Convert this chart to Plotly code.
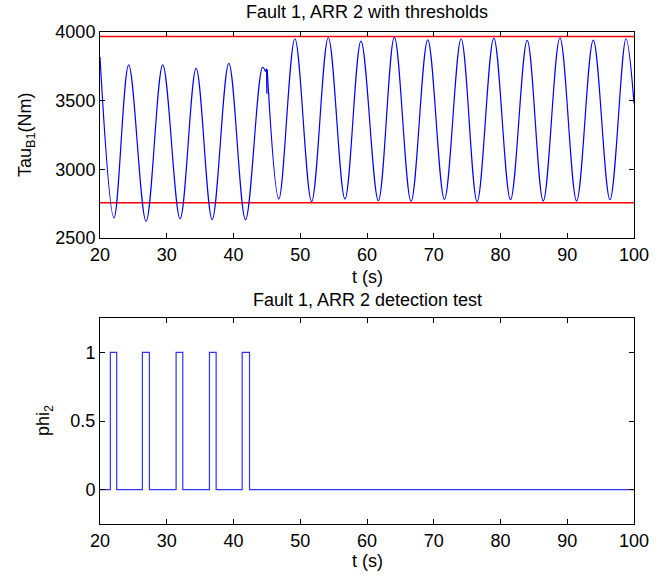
import plotly.graph_objects as go

# Top panel: extrema of the torque signal
tau_t_a = [20.0, 22.1, 24.3, 26.9, 29.4, 32.0, 34.4, 36.8, 39.3, 41.8, 44.35, 44.8]
tau_v_a = [3818, 2647, 3760, 2622, 3760, 2640, 3735, 2635, 3772, 2633, 3743, 3712]
glitch_t = [44.8, 44.95, 45.0, 45.05]
glitch_v = [3712, 3732, 3550, 3726]
tau_t_b = [45.05, 46.8, 49.2, 51.7, 54.2, 56.7, 59.1, 61.7, 64.1, 66.6, 69.1, 71.6, 74.1, 76.5,
           79.0, 81.5, 84.0, 86.4, 88.9, 91.4, 93.9, 96.4, 98.8, 100.0]
tau_v_b = [3726, 2784, 3951, 2765, 3960, 2784, 3934, 2772, 3963, 2767, 3943, 2781, 3951, 2765,
           3956, 2779, 3939, 2770, 3958, 2770, 3941, 2779, 3951, 3480]

thr_t = [20, 100]
thr_upper = [3968, 3968]
thr_lower = [2757, 2757]

# Bottom panel: detection test switching times
phi_t = [20, 21.55, 22.5, 26.35, 27.4, 31.4, 32.4, 36.4, 37.4, 41.3, 42.4, 100]
phi_v = [0, 1, 0, 1, 0, 1, 0, 1, 0, 1, 0, 0]

x_ticks = [20, 30, 40, 50, 60, 70, 80, 90, 100]
y1_ticks = [2500, 3000, 3500, 4000]
y2_ticks = [0, 0.5, 1]

BLUE = "#0000ff"
fig = go.Figure()
fig.add_trace(go.Scatter(x=thr_t, y=thr_upper, mode="lines", line=dict(color="#ff0000", width=1.5),
                         xaxis="x", yaxis="y"))
fig.add_trace(go.Scatter(x=thr_t, y=thr_lower, mode="lines", line=dict(color="#ff0000", width=1.5),
                         xaxis="x", yaxis="y"))
fig.add_trace(go.Scatter(x=tau_t_a, y=tau_v_a, mode="lines",
                         line=dict(color=BLUE, width=1.2, shape="spline", smoothing=1.0),
                         xaxis="x", yaxis="y"))
fig.add_trace(go.Scatter(x=glitch_t, y=glitch_v, mode="lines",
                         line=dict(color=BLUE, width=1.2), xaxis="x", yaxis="y"))
fig.add_trace(go.Scatter(x=tau_t_b, y=tau_v_b, mode="lines",
                         line=dict(color=BLUE, width=1.2, shape="spline", smoothing=1.0),
                         xaxis="x", yaxis="y"))
fig.add_trace(go.Scatter(x=phi_t, y=phi_v, mode="lines", line=dict(color="#3333ff", width=1.2, shape="hv"),
                         xaxis="x2", yaxis="y2"))

font = dict(family="Liberation Sans, Arial, Helvetica", size=18, color="black")
axis_common = dict(showgrid=False, zeroline=False, showline=True, linecolor="black", linewidth=1,
                   mirror="ticks", ticks="inside", ticklen=5, tickcolor="black",
                   tickfont=font)

L, R, T, B = 100, 33, 32, 52
PW, PH = 667 - L - R, 576 - T - B


def px_x(px):
    return (px - L) / PW


def px_y(py):
    return 1 - (py - T) / PH


fig.update_layout(
    width=667, height=576,
    margin=dict(l=L, r=R, t=T, b=B),
    paper_bgcolor="white", plot_bgcolor="white",
    showlegend=False,
    font=font,
    xaxis=dict(domain=[0, 1], range=[20, 100], tickvals=x_ticks, anchor="y", **axis_common),
    yaxis=dict(domain=[px_y(238), 1], range=[2500, 4000], tickvals=y1_ticks, anchor="x", **axis_common),
    xaxis2=dict(domain=[0, 1], range=[20, 100], tickvals=x_ticks, anchor="y2", **axis_common),
    yaxis2=dict(domain=[0, px_y(318)], range=[-0.25, 1.25], tickvals=y2_ticks, anchor="x2", **axis_common),
    annotations=[
        dict(text="Fault 1, ARR 2 with thresholds", x=px_x(367), y=px_y(12), xref="paper", yref="paper",
             showarrow=False, xanchor="center", yanchor="middle", font=font),
        dict(text="Fault 1, ARR 2 detection test", x=px_x(367), y=px_y(300), xref="paper", yref="paper",
             showarrow=False, xanchor="center", yanchor="middle", font=font),
        dict(text="t (s)", x=px_x(367), y=px_y(277), xref="paper", yref="paper",
             showarrow=False, xanchor="center", yanchor="middle", font=font),
        dict(text="t (s)", x=px_x(367), y=px_y(561), xref="paper", yref="paper",
             showarrow=False, xanchor="center", yanchor="middle", font=font),
        dict(text="Tau<sub>B1</sub>(Nm)", x=px_x(26), y=px_y(135), xref="paper", yref="paper",
             showarrow=False, textangle=-90, xanchor="center", yanchor="middle", font=font),
        dict(text="phi<sub>2</sub>", x=px_x(44), y=px_y(421), xref="paper", yref="paper",
             showarrow=False, textangle=-90, xanchor="center", yanchor="middle", font=font),
    ],
)

fig.write_html("out.html", config={"displayModeBar": False},
               post_script="document.body.style.margin='0';")
